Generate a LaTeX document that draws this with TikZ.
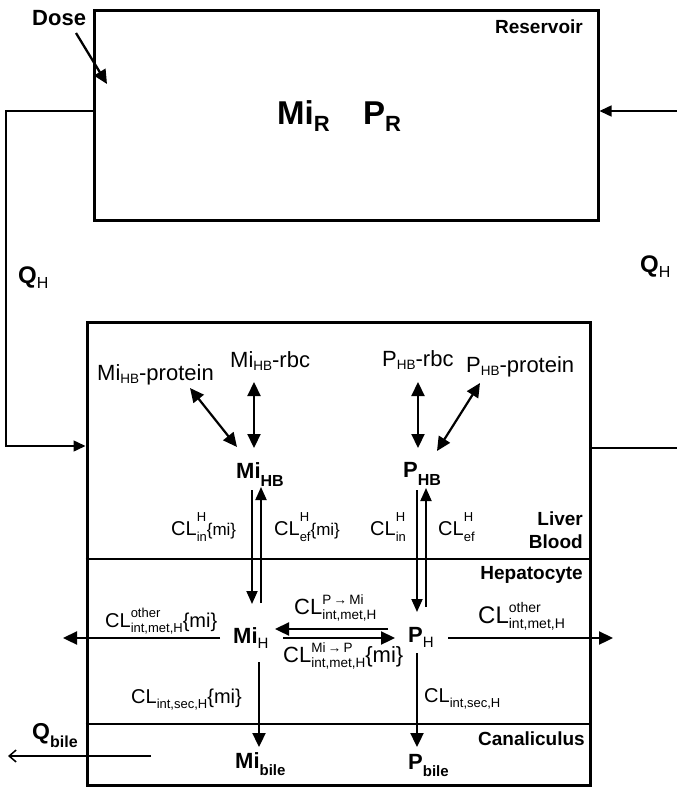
\documentclass[tikz,border=0pt]{standalone}
\usepackage{fontspec}
\setmainfont{Liberation Sans}
\usetikzlibrary{arrows.meta,calc}
\newcommand{\fs}[1]{\fontsize{#1}{#1}\selectfont}
\newcommand{\sbx}[3]{\raisebox{-#1pt}{\fs{#2}#3}}
\newsavebox\supbox
\newsavebox\subbox
\newlength\sslen
\newcommand{\ssx}[5]{%
 \sbox\supbox{\fs{#3}#4}%
 \sbox\subbox{\fs{#3}#5}%
 \setlength\sslen{\wd\supbox}%
 \ifdim\wd\subbox>\sslen \setlength\sslen{\wd\subbox}\fi
 \rlap{\raisebox{#1pt}{\usebox\supbox}}\rlap{\raisebox{-#2pt}{\usebox\subbox}}\hspace*{\sslen}}
\begin{document}
\begin{tikzpicture}[x=1pt,y=-1pt,
  compartment/.style={draw, line width=3pt, inner sep=0pt},
  thinline/.style={line width=1.5pt},
  lab/.style={inner sep=0pt, anchor=base west},
  rlab/.style={inner sep=0pt, anchor=base east, font=\bfseries\fs{19}},
  arr/.style={line width=2.3pt, -{Triangle[length=14pt,width=13pt]}},
  varr/.style={line width=1.9pt, -{Triangle[length=13pt,width=11pt]}},
  darr/.style={line width=2.2pt, {Triangle[length=14pt,width=13pt]}-{Triangle[length=14pt,width=13pt]}},
  flow/.style={line width=1.5pt, -{Triangle[length=12pt,width=11pt]}}]
\useasboundingbox (0,0) rectangle (677,787);

% compartments
\node[compartment, minimum width=504pt, minimum height=210pt] (res) at (346,115) {};
\node[compartment, minimum width=503pt, minimum height=463pt] (liver) at (338.5,553.5) {};
\coordinate (d1) at (0,559);
\coordinate (d2) at (0,724);
\draw[thinline] (liver.west |- d1) -- (liver.east |- d1);
\draw[thinline] (liver.west |- d2) -- (liver.east |- d2);

% reservoir texts
\node[lab, font=\bfseries\fs{22}] (dose) at (32,25) {Dose};
\coordinate (doseTip) at (107,84);
\draw[arr] ($(dose.base west)+(44,8)$) -- (doseTip);
\node[rlab] (reslab) at (583,33) {Reservoir};
\node[lab, font=\bfseries\fs{33}] (mir) at (277,124) {Mi\sbx{7}{22}{R}};
\node[lab, font=\bfseries\fs{33}] (pr) at (363,124) {P\sbx{7}{22}{R}};

% blood flow
\coordinate (loopTop) at (6,111);
\coordinate (loopBot) at (6,446);
\draw[flow] (res.west |- loopTop) -- (loopTop) -- (loopBot) -- (liver.west |- loopBot);
\coordinate (rin) at (677,111);
\draw[flow] (rin) -- (res.east |- rin);
\coordinate (rout) at (677,448);
\draw[thinline] (liver.east |- rout) -- (rout);
\node[lab, font=\bfseries\fs{24}] (qhl) at (18,283) {Q\sbx{5}{16}{\mdseries H}};
\node[lab, font=\bfseries\fs{24}] (qhr) at (640,272) {Q\sbx{5}{16}{\mdseries H}};

% liver blood
\node[lab, font=\fs{22}] (mihbprot) at (97,380) {Mi\sbx{3}{13.5}{HB}-protein};
\node[lab, font=\fs{22}] (mihbrbc) at (230,367) {Mi\sbx{3}{13.5}{HB}-rbc};
\node[lab, font=\fs{22}] (phbrbc) at (382,366) {P\sbx{3}{13.5}{HB}-rbc};
\node[lab, font=\fs{22}] (phbprot) at (466,372) {P\sbx{3}{13.5}{HB}-protein};
\node[lab, font=\bfseries\fs{22}] (mihb) at (236,478) {Mi\sbx{8}{16}{HB}};
\node[lab, font=\bfseries\fs{22}] (phb) at (403,477) {P\sbx{8}{16}{HB}};
\draw[darr] ($(mihbprot.base west)+(93,8)$) -- ($(mihb.base west)+(1,-31)$);
\draw[darr] ($(mihbrbc.base west)+(24,15)$) -- ($(mihb.base west)+(18,-30)$);
\draw[darr] ($(phbrbc.base west)+(36,16)$) -- ($(phb.base west)+(15,-29)$);
\draw[darr] ($(phbprot.base west)+(14,11)$) -- ($(phb.base west)+(34,-26)$);

\node[lab, font=\fs{20}] (clinmi) at (171,535) {CL\ssx{14}{6}{13}{H}{in}\fs{17}\{mi\}};
\node[lab, font=\fs{20}] (clefmi) at (274,535) {CL\ssx{14}{6}{13}{H}{ef}\fs{17}\{mi\}};
\node[lab, font=\fs{20}] (clin) at (370,535) {CL\ssx{14}{6}{13}{H}{in}};
\node[lab, font=\fs{20}] (clef) at (438,535) {CL\ssx{14}{6}{13}{H}{ef}};
\node[rlab] (liverlab) at (583,525) {Liver};
\node[rlab] (bloodlab) at (583,548) {Blood};

% hepatocyte
\node[rlab] (heplab) at (583,579) {Hepatocyte};
\node[lab, font=\bfseries\fs{22}] (mih) at (233,643) {Mi\sbx{5}{15}{\mdseries H}};
\node[lab, font=\bfseries\fs{22}] (ph) at (408,642) {P\sbx{5}{15}{\mdseries H}};
\draw[varr] ($(mihb.base west)+(16,12)$) -- ($(mih.base west)+(19,-39)$);
\draw[varr] ($(mih.base west)+(28,-40)$) -- ($(mihb.base west)+(25,9)$);
\draw[varr] ($(phb.base west)+(14,13)$) -- ($(ph.base west)+(9,-30)$);
\draw[varr] ($(ph.base west)+(18,-35)$) -- ($(phb.base west)+(23,11)$);

\draw[arr] ($(ph.base west)+(-20,-13)$) -- ($(mih.base west)+(42,-14)$);
\draw[arr] ($(mih.base west)+(50,-5)$) -- ($(ph.base west)+(-13,-4)$);
\coordinate (lout) at (63,638);
\draw[arr] ($(mih.base west)+(-13,-5)$) -- (lout);
\coordinate (rout2) at (613,638);
\draw[arr] ($(ph.base west)+(40,-4)$) -- (rout2);

\node[lab, font=\fs{22}] (clpmi) at (294,614) {CL\ssx{10}{5}{13.5}{P\,→\,Mi}{int,met,H}};
\node[lab, font=\fs{22}] (clmip) at (283,662) {CL\ssx{10}{5}{13.5}{Mi\,→\,P}{int,met,H}\{mi\}};
\node[lab, font=\fs{20}] (clothl) at (105,627) {CL\ssx{10}{5}{13}{other}{int,met,H}\{mi\}};
\node[lab, font=\fs{24}] (clothr) at (478,623) {CL\ssx{11}{5}{14}{other}{int,met,H}};
\node[lab, font=\fs{20}] (clsecl) at (131,703) {CL\sbx{5}{13}{int,sec,H}\{mi\}};
\node[lab, font=\fs{20}] (clsecr) at (424,702) {CL\sbx{5}{13}{int,sec,H}};

% canaliculus
\node[rlab] (canlab) at (585,745) {Canaliculus};
\node[lab, font=\bfseries\fs{22}] (mibile) at (235,768) {Mi\sbx{7}{15}{bile}};
\node[lab, font=\bfseries\fs{22}] (pbile) at (408,769) {P\sbx{7}{15}{bile}};
\draw[arr] ($(mih.base west)+(26,19)$) -- ($(mibile.base west)+(24,-21)$);
\draw[arr] ($(ph.base west)+(9,11)$) -- ($(pbile.base west)+(9,-22)$);
\node[lab, font=\bfseries\fs{23}] (qbile) at (32,739) {Q\sbx{8}{16}{bile}};
\coordinate (qbileStart) at (151,756);
\coordinate (qbileEnd) at (8,756);
\draw[line width=1.5pt, -{Straight Barb[length=7pt,width=12pt]}] (qbileStart) -- (qbileEnd);
\end{tikzpicture}
\end{document}
